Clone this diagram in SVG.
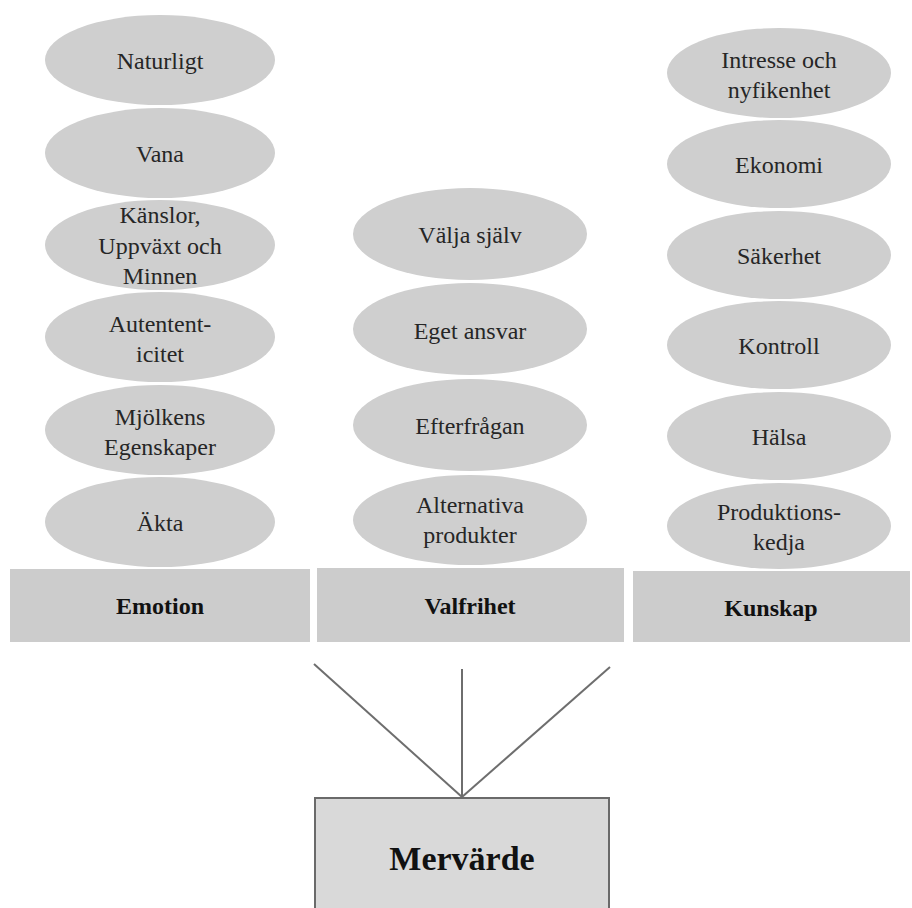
<svg xmlns="http://www.w3.org/2000/svg" width="912" height="908" viewBox="0 0 912 908">
<style>
.e{fill:#cfcfcf;}
.r{fill:#cccccc;}
text{font-family:"Liberation Serif","Times New Roman",serif;font-size:24px;fill:#262626;text-anchor:middle;}
.b{font-weight:bold;fill:#111;}
.m{font-weight:bold;font-size:34px;fill:#111;}
.c{stroke:#6e6e6e;stroke-width:2;fill:none;}
</style>
<rect width="912" height="908" fill="#ffffff"/>
<g id="emotion-col">
<g id="n-naturligt"><ellipse class="e" cx="160" cy="60" rx="115" ry="45"/><text x="160" y="69">Naturligt</text></g>
<g id="n-vana"><ellipse class="e" cx="160" cy="153" rx="115" ry="45"/><text x="160" y="162">Vana</text></g>
<g id="n-kanslor"><ellipse class="e" cx="160" cy="245" rx="115" ry="45"/><text x="160" y="223">Känslor,</text><text x="160" y="254">Uppväxt och</text><text x="160" y="284">Minnen</text></g>
<g id="n-autenticitet"><ellipse class="e" cx="160" cy="337" rx="115" ry="45"/><text x="160" y="332">Autentent-</text><text x="160" y="362">icitet</text></g>
<g id="n-mjolkens"><ellipse class="e" cx="160" cy="430" rx="115" ry="45"/><text x="160" y="425">Mjölkens</text><text x="160" y="455">Egenskaper</text></g>
<g id="n-akta"><ellipse class="e" cx="160" cy="522" rx="115" ry="45"/><text x="160" y="531">Äkta</text></g>
<g id="n-emotion"><rect class="r" x="10" y="569" width="300" height="73"/><text class="b" x="160" y="614">Emotion</text></g>
</g>
<g id="valfrihet-col">
<g id="n-valja"><ellipse class="e" cx="470" cy="234" rx="117" ry="46"/><text x="470" y="243">Välja själv</text></g>
<g id="n-eget"><ellipse class="e" cx="470" cy="329" rx="117" ry="46"/><text x="470" y="339">Eget ansvar</text></g>
<g id="n-efterfragan"><ellipse class="e" cx="470" cy="425" rx="117" ry="46"/><text x="470" y="434">Efterfrågan</text></g>
<g id="n-alternativa"><ellipse class="e" cx="470" cy="520" rx="117" ry="45"/><text x="470" y="513">Alternativa</text><text x="470" y="543">produkter</text></g>
<g id="n-valfrihet"><rect class="r" x="317" y="568" width="307" height="74"/><text class="b" x="470" y="614">Valfrihet</text></g>
</g>
<g id="kunskap-col">
<g id="n-intresse"><ellipse class="e" cx="779" cy="73" rx="112" ry="45"/><text x="779" y="68">Intresse och</text><text x="779" y="98">nyfikenhet</text></g>
<g id="n-ekonomi"><ellipse class="e" cx="779" cy="164" rx="112" ry="44"/><text x="779" y="173">Ekonomi</text></g>
<g id="n-sakerhet"><ellipse class="e" cx="779" cy="255" rx="112" ry="44"/><text x="779" y="264">Säkerhet</text></g>
<g id="n-kontroll"><ellipse class="e" cx="779" cy="345" rx="112" ry="44"/><text x="779" y="354">Kontroll</text></g>
<g id="n-halsa"><ellipse class="e" cx="779" cy="436" rx="112" ry="44"/><text x="779" y="445">Hälsa</text></g>
<g id="n-produktion"><ellipse class="e" cx="779" cy="526" rx="112" ry="43"/><text x="779" y="520">Produktions-</text><text x="779" y="550">kedja</text></g>
<g id="n-kunskap"><rect class="r" x="633" y="571" width="277" height="71"/><text class="b" x="771" y="616">Kunskap</text></g>
</g>
<g id="connectors">
<line class="c" x1="314" y1="664" x2="462" y2="797"/>
<line class="c" x1="462" y1="669" x2="462" y2="797"/>
<line class="c" x1="610" y1="667" x2="462" y2="797"/>
</g>
<g id="n-mervarde"><rect x="315" y="798" width="294" height="120" fill="#d9d9d9" stroke="#6a6a6a" stroke-width="2"/><text class="m" x="462" y="870">Mervärde</text></g>
</svg>
